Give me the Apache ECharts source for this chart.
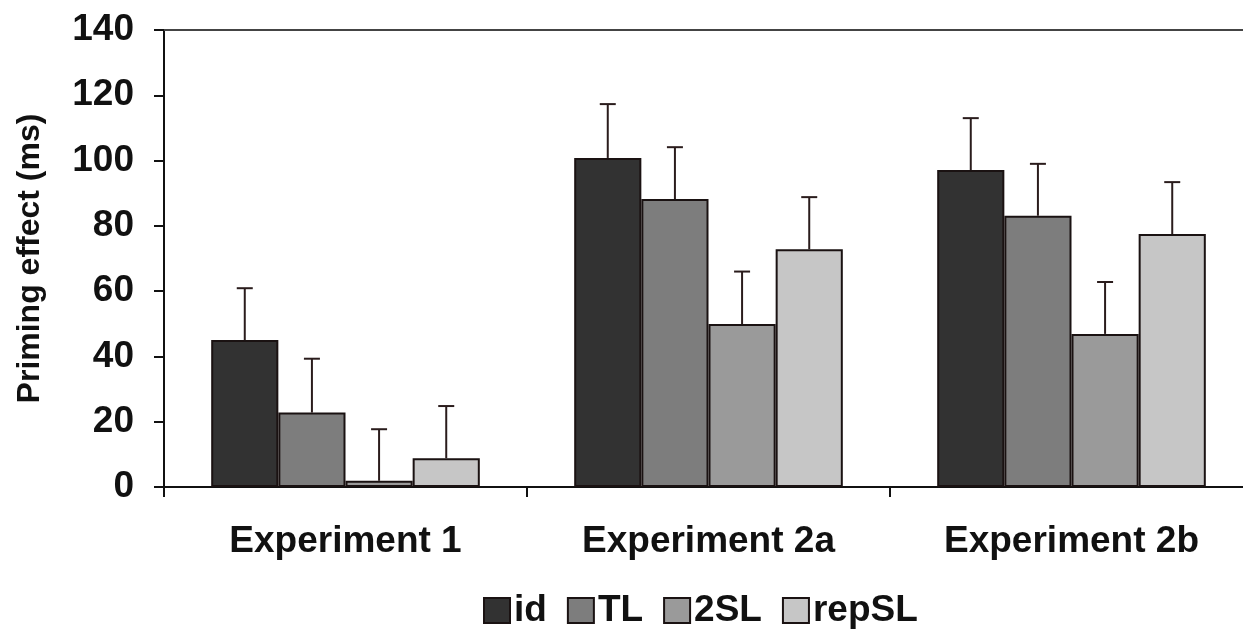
<!DOCTYPE html>
<html>
<head>
<meta charset="utf-8">
<script src="https://cdn.jsdelivr.net/npm/echarts@6/dist/echarts.min.js"></script>
<style>html,body{margin:0;padding:0;background:#fff;}#c{width:1243px;height:631px;}</style>
</head>
<body>
<div id="c"></div>
<script>
var categories = ['Experiment 1', 'Experiment 2a', 'Experiment 2b'];
var seriesNames = ['id', 'TL', '2SL', 'repSL'];
var idValues = [45, 100.8, 97.1];
var tlValues = [22.8, 88.2, 83.1];
var sl2Values = [1.9, 49.9, 46.9];
var repSLValues = [8.8, 72.8, 77.5];
var idErr = [15.9, 16.5, 15.9];
var tlErr = [16.5, 15.9, 15.9];
var sl2Err = [15.8, 16.1, 15.9];
var repSLErr = [16.0, 16.0, 15.9];
var yTicks = [0, 20, 40, 60, 80, 100, 120, 140];

var colors = ['#323232', '#7d7d7d', '#9a9a9a', '#c6c6c6'];
var values = [idValues, tlValues, sl2Values, repSLValues];
var errs = [idErr, tlErr, sl2Err, repSLErr];
var barCatGap = 0.26;
var font = '"Liberation Sans", Arial, sans-serif';

var errData = [];
for (var s = 0; s < 4; s++) {
  for (var c = 0; c < categories.length; c++) {
    errData.push([c, values[s][c], values[s][c] + errs[s][c], s]);
  }
}

var series = seriesNames.map(function (n, i) {
  return {
    name: n, type: 'bar', data: values[i],
    barGap: '0%', barCategoryGap: (barCatGap * 100) + '%',
    itemStyle: { color: colors[i], borderColor: '#1a1212', borderWidth: 2 },
    silent: true
  };
});
series.push({
  type: 'custom', silent: true, z: 5,
  data: errData,
  renderItem: function (params, api) {
    var ci = api.value(0), lo = api.value(1), hi = api.value(2), si = api.value(3);
    var base = api.coord([ci, lo]);
    var top = api.coord([ci, hi]);
    var band = api.size([1, 0])[0];
    var bw = band * (1 - barCatGap) / 4;
    var x = base[0] + (si - 1.5) * bw;
    var cap = 8;
    var st = { stroke: '#2a1c1c', lineWidth: 2 };
    return { type: 'group', children: [
      { type: 'line', shape: { x1: x, y1: base[1], x2: x, y2: top[1] }, style: st },
      { type: 'line', shape: { x1: x - cap, y1: top[1], x2: x + cap, y2: top[1] }, style: st }
    ]};
  }
});

var chart = echarts.init(document.getElementById('c'));
chart.setOption({
  backgroundColor: '#fff',
  animation: false,
  grid: { left: 164, right: -10, top: 30, bottom: 144, containLabel: false, outerBoundsMode: 'none' },
  legend: {
    data: seriesNames, left: 483, top: 592, padding: 0,
    itemWidth: 26, itemHeight: 25, itemGap: 20,
    textStyle: { fontFamily: font, fontWeight: 'bold', fontSize: 37, lineHeight: 36, color: '#111', padding: [0, 0, 0, -1] },
    icon: 'rect'
  },
  xAxis: [{
    type: 'category', data: categories,
    axisLine: { lineStyle: { color: '#111', width: 2 } },
    axisTick: { show: true, length: 10, inside: false, lineStyle: { color: '#111', width: 2 } },
    axisLabel: { fontFamily: font, fontWeight: 'bold', fontSize: 37, color: '#111', margin: 36 }
  }, {
    type: 'category', data: categories, position: 'top',
    axisLine: { show: true, lineStyle: { color: '#444', width: 2 } },
    axisTick: { show: false }, axisLabel: { show: false }
  }],
  yAxis: {
    type: 'value', min: 0, max: 140, interval: 20,
    name: 'Priming effect (ms)', nameLocation: 'middle', nameGap: 118, nameRotate: 90,
    nameTextStyle: { fontFamily: font, fontWeight: 'bold', fontSize: 32, color: '#111' },
    axisLine: { show: true, lineStyle: { color: '#111', width: 2 } },
    axisTick: { show: true, length: 10, lineStyle: { color: '#111', width: 2 } },
    splitLine: { show: false },
    axisLabel: { fontFamily: font, fontWeight: 'bold', fontSize: 37, color: '#111', margin: 30,
      formatter: function (v) { return yTicks.indexOf(v) >= 0 ? String(v) : ''; } }
  },
  series: series
});
</script>
</body>
</html>
